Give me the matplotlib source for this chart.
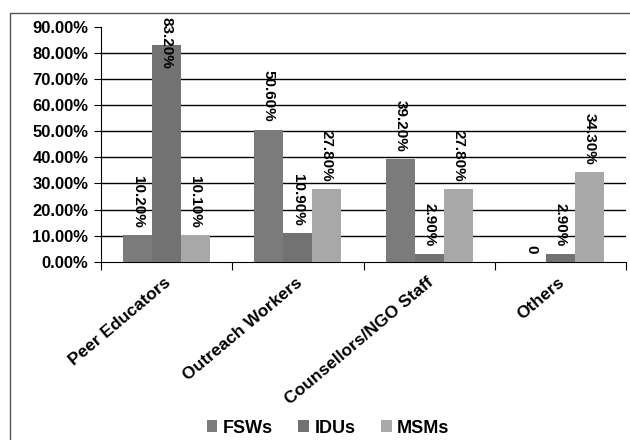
import matplotlib
matplotlib.use("Agg")
import matplotlib.pyplot as plt
import numpy as np
from matplotlib.patches import Rectangle

plt.rcParams['font.family'] = ['Liberation Sans', 'DejaVu Sans']

categories = ['Peer Educators', 'Outreach Workers', 'Counsellors/NGO Staff', 'Others']
series = ['FSWs', 'IDUs', 'MSMs']
fsw = [10.2, 50.6, 39.2, 0]
idu = [83.2, 10.9, 2.9, 2.9]
msm = [10.1, 27.8, 27.8, 34.3]
labels_fsw = ['10.20%', '50.60%', '39.20%', '0']
labels_idu = ['83.20%', '10.90%', '2.90%', '2.90%']
labels_msm = ['10.10%', '27.80%', '27.80%', '34.30%']
colors = ['#7b7b7b', '#727272', '#a8a8a8']

fig = plt.figure(figsize=(6.3, 4.4), dpi=100)
fig.patches.append(Rectangle((10/630, -0.1), 1.2, 1 - 13/440 + 0.1, transform=fig.transFigure,
                             fill=False, edgecolor='#555555', linewidth=1))
ax = fig.add_axes([0.160, 0.405, 0.834, 0.534])

x = np.arange(len(categories))
w = 0.22
for i, (vals, labs) in enumerate([(fsw, labels_fsw), (idu, labels_idu), (msm, labels_msm)]):
    pos = x + (i - 1) * w
    ax.bar(pos, vals, w, color=colors[i], label=series[i], zorder=3)
    for p, v, t in zip(pos, vals, labs):
        ax.text(p, min(v + 3.0, 74), t, rotation=270, ha='center', va='bottom',
                fontsize=11, fontweight='bold', zorder=4, clip_on=False)

ax.set_xlim(-0.5, 3.5)
ax.set_ylim(0, 90)
ax.set_yticks(np.arange(0, 91, 10))
ax.set_yticklabels(['%.2f%%' % v for v in np.arange(0, 91, 10)], fontsize=12, fontweight='bold')
for v in range(10, 90, 10):
    ax.axhline(v, color='black', linewidth=1, zorder=1)
ax.set_xticks(np.arange(-0.5, 4, 1))
ax.set_xticklabels([])
ax.tick_params(axis='x', length=6, direction='out')
ax.tick_params(axis='y', length=5, direction='out', pad=4)
for c_i, c in enumerate(categories):
    ax.text(c_i - 0.02, -5, c, rotation=40, ha='right', va='top', rotation_mode='anchor',
            fontsize=12.5, fontweight='bold')
for s in ['top', 'right']:
    ax.spines[s].set_visible(False)
ax.spines['left'].set_color('black')
ax.spines['bottom'].set_color('black')

fig.legend(loc='center', bbox_to_anchor=(328/630, 1 - 428/440), ncol=3, frameon=False,
           handlelength=0.6, handleheight=0.6, handletextpad=0.3, columnspacing=1.4,
           prop={'weight': 'bold', 'size': 13})

fig.savefig('out.png', dpi=100)
